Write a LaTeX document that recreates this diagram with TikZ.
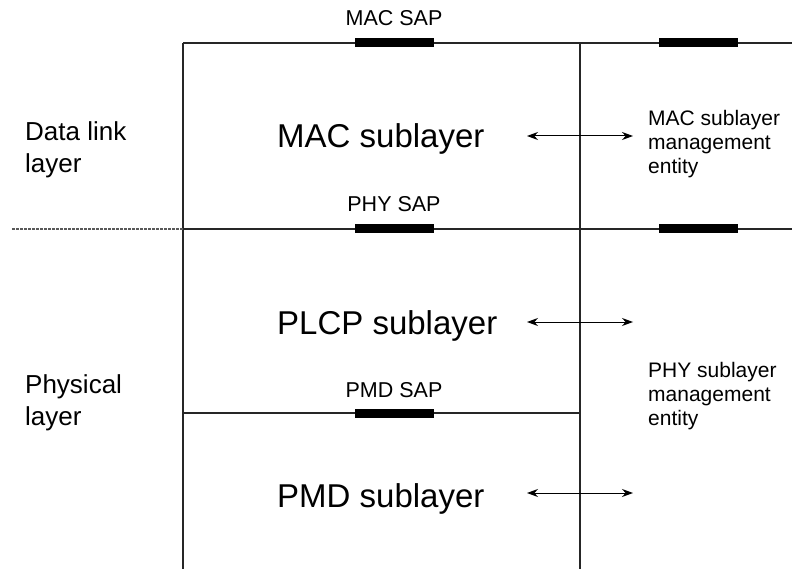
\documentclass[tikz,border=0pt]{standalone}
\usepackage{fontspec}
\setmainfont{Liberation Sans}
\usetikzlibrary{arrows.meta}
\begin{document}
\begin{tikzpicture}[x=1pt,y=-1pt,
  frame/.style={line width=1.2pt,draw=black!85},
  sapbar/.style={fill=black,draw=none},
  biarrow/.style={line width=1pt,{Stealth[length=11pt,width=8pt]}-{Stealth[length=11pt,width=8pt]}},
  saplabel/.style={anchor=base,inner sep=0pt,font=\fontsize{21.5}{21.5}\selectfont},
  biglabel/.style={anchor=base west,inner sep=0pt,font=\fontsize{33}{33}\selectfont},
  sidelabel/.style={anchor=base west,inner sep=0pt,font=\fontsize{26}{26}\selectfont},
  mgmtlabel/.style={anchor=base west,inner sep=0pt,font=\fontsize{21}{21}\selectfont}]
\useasboundingbox (0,0) rectangle (792,569);
\fill[white] (0,0) rectangle (792,569);
% frame coordinates
\coordinate (tl) at (183,43);
\coordinate (tm) at (580,43);
\coordinate (tr) at (792,43);
\coordinate (ml) at (183,229);
\coordinate (mm) at (580,229);
\coordinate (mr) at (792,229);
\coordinate (dl) at (12,229);
\coordinate (ll) at (183,413);
\coordinate (lm) at (580,413);
\coordinate (bl) at (183,569);
\coordinate (bm) at (580,569);
% frame lines
\draw[frame] (tl) -- (tr);
\draw[frame] (ml) -- (mr);
\draw[frame] (ll) -- (lm);
\draw[frame] (tl) -- (bl);
\draw[frame] (tm) -- (bm);
\draw[line width=1.1pt,draw=black!65,dash pattern=on 2.5pt off 1.5pt] (dl) -- (ml);
% SAP bars
\fill[sapbar] (355,38.5) rectangle (434,47.5);
\fill[sapbar] (659,38.5) rectangle (738,47.5);
\fill[sapbar] (355,224.5) rectangle (434,233.5);
\fill[sapbar] (659,224.5) rectangle (738,233.5);
\fill[sapbar] (355,408.5) rectangle (434,417.5);
% SAP labels
\node[saplabel] (macsap) at (394,26) {MAC SAP};
\node[saplabel] (physap) at (394,212) {PHY SAP};
\node[saplabel] (pmdsap) at (394,397) {PMD SAP};
% sublayer labels
\node[biglabel] (mac) at (277,148) {MAC sublayer};
\node[biglabel] (plcp) at (277,334) {PLCP sublayer};
\node[biglabel] (pmd) at (277,507) {PMD sublayer};
% layer labels
\node[sidelabel] (dl1) at (25,141) {Data link};
\node[sidelabel] (dl2) at (25,173) {layer};
\node[sidelabel] (ph1) at (25,393) {Physical};
\node[sidelabel] (ph2) at (25,425) {layer};
% management labels
\node[mgmtlabel] (m1) at (648,126) {MAC sublayer};
\node[mgmtlabel] (m2) at (648,150) {management};
\node[mgmtlabel] (m3) at (648,174) {entity};
\node[mgmtlabel] (p1) at (648,377) {PHY sublayer};
\node[mgmtlabel] (p2) at (648,401) {management};
\node[mgmtlabel] (p3) at (648,425) {entity};
% arrows
\coordinate (a1l) at (527,136);
\coordinate (a1r) at (633,136);
\coordinate (a2l) at (527,322);
\coordinate (a2r) at (633,322);
\coordinate (a3l) at (527,493);
\coordinate (a3r) at (633,493);
\draw[biarrow] (a1l) -- (a1r);
\draw[biarrow] (a2l) -- (a2r);
\draw[biarrow] (a3l) -- (a3r);
\end{tikzpicture}
\end{document}
